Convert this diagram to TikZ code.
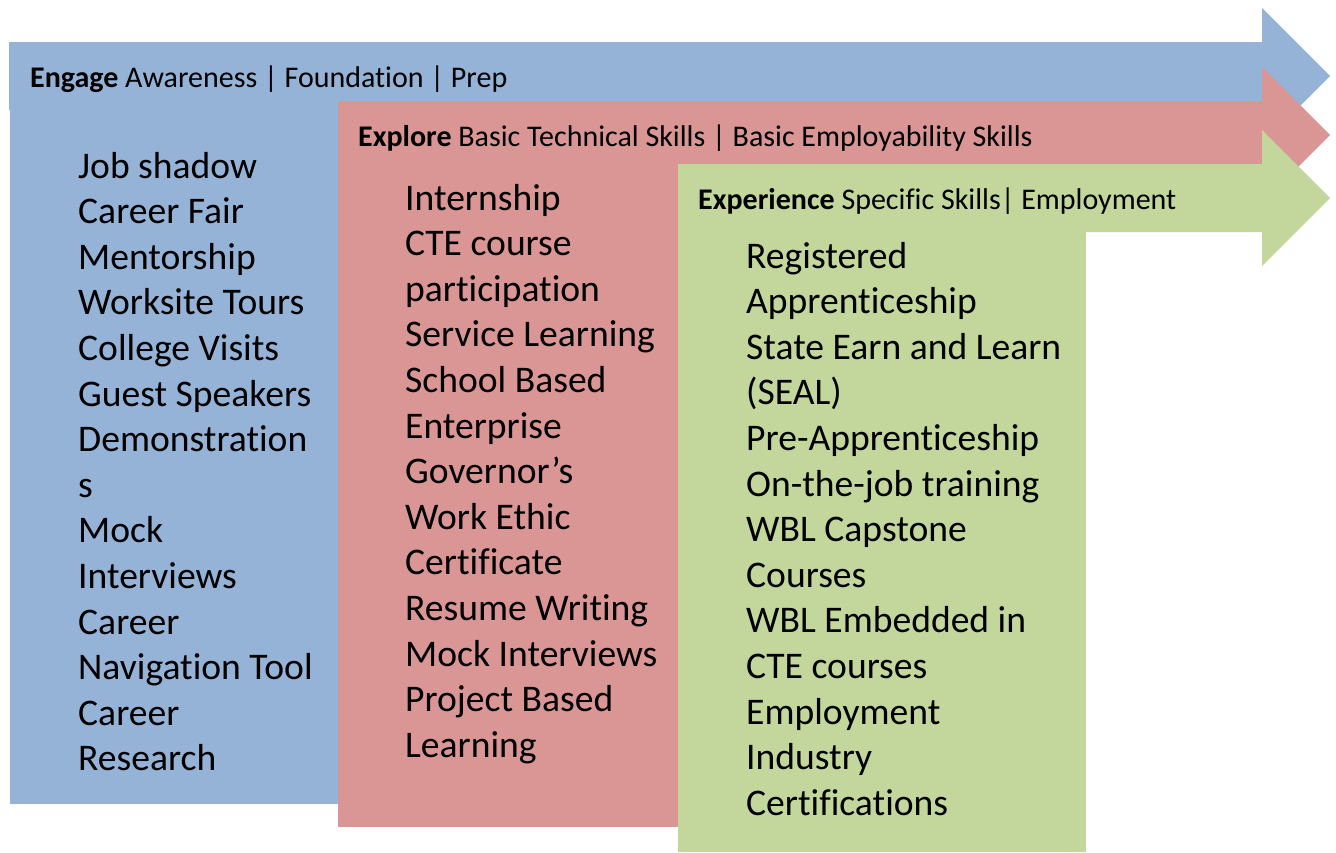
\documentclass[tikz,border=0pt]{standalone}
\usepackage{fontspec}
\setmainfont[Ligatures={NoCommon}]{Carlito}
\definecolor{engageblue}{HTML}{95B3D7}
\definecolor{explorered}{HTML}{D99694}
\definecolor{expgreen}{HTML}{C3D69B}

\begin{document}
\begin{tikzpicture}[x=1pt,y=-1pt,
  head/.style={anchor=base west,inner sep=0pt,font=\fontsize{30}{36}\selectfont},
  item/.style={anchor=base west,inner sep=0pt,font=\fontsize{37.6}{45}\selectfont}]
\useasboundingbox (0,0) rectangle (1336,852);
% engage
\fill[engageblue] (10,42) rectangle (338,804);
\fill[engageblue] (9,42) -- (1262,42) -- (1262,8) -- (1330,76) -- (1262,144) -- (1262,110) -- (9,110) -- cycle;
\node[head] (engage) at (30,87) {\textbf{Engage} Awareness | Foundation | Prep};
\foreach \txt [count=\i from 0] in {Job shadow,Career Fair,Mentorship,Worksite Tours,
    College Visits,Guest Speakers,Demonstration,s,Mock,Interviews,Career,
    Navigation Tool,Career,Research}
  \node[item] (engage-\i) at (78,178+45.6*\i) {\txt};
% explore
\fill[explorered] (338,101) rectangle (678,827);
\fill[explorered] (338,101) -- (1262,101) -- (1262,67) -- (1330,135) -- (1262,203) -- (1262,169) -- (338,169) -- cycle;
\node[head] (explore) at (358,146) {\textbf{Explore} Basic Technical Skills | Basic Employability Skills};
\foreach \txt [count=\i from 0] in {Internship,CTE course,participation,Service Learning,
    School Based,Enterprise,Governor’s,Work Ethic,Certificate,Resume Writing,
    Mock Interviews,Project Based,Learning}
  \node[item] (explore-\i) at (405,210+45.6*\i) {\txt};
% experience
\fill[expgreen] (678,164) rectangle (1086,852);
\fill[expgreen] (679,164) -- (1262,164) -- (1262,130) -- (1330,198) -- (1262,266) -- (1262,232) -- (679,232) -- cycle;
\node[head] (experience) at (698,209) {\textbf{Experience} Specific Skills| Employment};
\foreach \txt [count=\i from 0] in {Registered,Apprenticeship,State Earn and Learn,(SEAL),
    Pre-Apprenticeship,On-the-job training,WBL Capstone,Courses,WBL Embedded in,
    CTE courses,Employment,Industry,Certifications}
  \node[item] (experience-\i) at (746,268+45.6*\i) {\txt};
\end{tikzpicture}
\end{document}
